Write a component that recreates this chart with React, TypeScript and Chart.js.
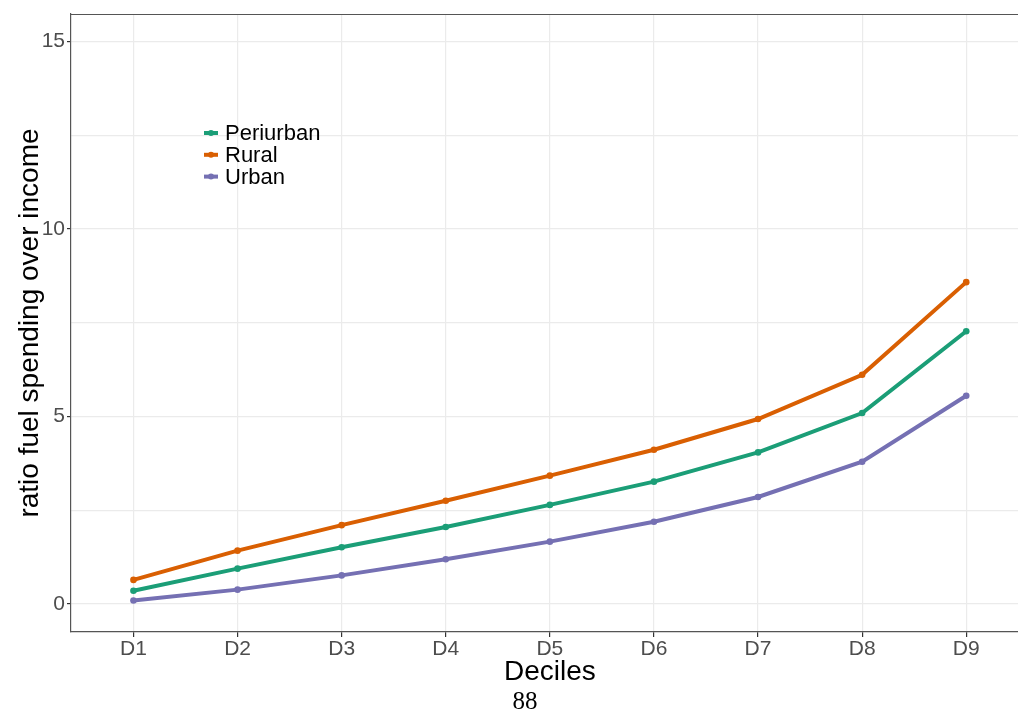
import React, { useEffect, useRef } from "react";
import { Chart, registerables } from "chart.js";

Chart.register(...registerables);

const deciles = ["D1", "D2", "D3", "D4", "D5", "D6", "D7", "D8", "D9"];
const periurban = [0.35, 0.94, 1.51, 2.05, 2.64, 3.26, 4.04, 5.09, 7.27];
const rural = [0.64, 1.42, 2.1, 2.75, 3.42, 4.11, 4.93, 6.11, 8.58];
const urban = [0.09, 0.38, 0.76, 1.19, 1.66, 2.19, 2.85, 3.79, 5.55];
const seriesNames = ["Periurban", "Rural", "Urban"];
const seriesColors = ["#1B9E77", "#D95F02", "#7570B3"];
const yMajorTicks = [0, 5, 10, 15];
const yGridTicks = [0, 2.5, 5, 7.5, 10, 12.5, 15];
const pageNumber = "88";

const FONT = "'Liberation Sans', Arial, Helvetica, sans-serif";

const frameAndLegend = {
  id: "frameAndLegend",
  afterDraw(chart: any) {
    const { ctx, chartArea } = chart;
    ctx.save();
    // top and right border of the panel
    ctx.strokeStyle = "#555555";
    ctx.lineWidth = 1.2;
    ctx.beginPath();
    ctx.moveTo(chartArea.left, chartArea.top + 0.5);
    ctx.lineTo(chartArea.right, chartArea.top + 0.5);
    ctx.lineTo(chartArea.right, chartArea.bottom);
    ctx.stroke();

    // legend inside the panel
    const x0 = 204;
    const y0 = 133;
    const dy = 21.8;
    ctx.font = `22px ${FONT}`;
    ctx.textBaseline = "middle";
    ctx.textAlign = "left";
    chart.data.datasets.forEach((ds: any, i: number) => {
      const y = y0 + i * dy;
      ctx.strokeStyle = ds.borderColor;
      ctx.lineWidth = 4;
      ctx.lineCap = "butt";
      ctx.beginPath();
      ctx.moveTo(x0, y);
      ctx.lineTo(x0 + 14, y);
      ctx.stroke();
      ctx.fillStyle = ds.borderColor;
      ctx.beginPath();
      ctx.arc(x0 + 7, y, 3, 0, Math.PI * 2);
      ctx.fill();
      ctx.fillStyle = "#000000";
      ctx.fillText(ds.label, x0 + 21, y + 1);
    });
    ctx.restore();
  },
};

export default function App() {
  const canvasRef = useRef<HTMLCanvasElement | null>(null);

  useEffect(() => {
    if (!canvasRef.current) return;
    const seriesValues = [periurban, rural, urban];
    const chart = new Chart(canvasRef.current, {
      type: "line",
      data: {
        datasets: seriesValues.map((vals, i) => ({
          label: seriesNames[i],
          data: vals.map((v, j) => ({ x: j + 1, y: v })),
          borderColor: seriesColors[i],
          backgroundColor: seriesColors[i],
          borderWidth: 4,
          pointRadius: 3.3,
          pointBorderWidth: 0,
          pointHoverRadius: 3.3,
          tension: 0,
          fill: false,
        })),
      },
      options: {
        animation: false,
        responsive: false,
        maintainAspectRatio: false,
        layout: { padding: { top: 14, right: 0, bottom: 0, left: 0 } },
        plugins: {
          legend: { display: false },
          tooltip: { enabled: false },
        },
        scales: {
          x: {
            type: "linear",
            min: 0.4,
            max: 9.6,
            afterBuildTicks: (scale: any) => {
              scale.ticks = deciles.map((_, i) => ({ value: i + 1 }));
            },
            afterFit: (scale: any) => {
              scale.height = 80;
              scale.paddingLeft = 0;
              scale.paddingRight = 0;
            },
            ticks: {
              callback: (v: any) => deciles[Number(v) - 1] ?? "",
              color: "#4D4D4D",
              font: { family: FONT, size: 21 },
              padding: 0,
              maxRotation: 0,
              autoSkip: false,
            },
            grid: {
              color: "#EBEBEB",
              lineWidth: 1.2,
              tickColor: "#333333",
              tickLength: 5,
            },
            border: { display: true, color: "#555555", width: 1.2 },
            title: {
              display: true,
              text: "Deciles",
              color: "#000000",
              font: { family: FONT, size: 28 },
              padding: { top: 0, bottom: 23 },
            },
          },
          y: {
            type: "linear",
            min: -0.75,
            max: 15.73,
            afterBuildTicks: (scale: any) => {
              scale.ticks = yGridTicks.map((v) => ({ value: v }));
            },
            afterFit: (scale: any) => {
              scale.width = 71;
              scale.paddingTop = 0;
              scale.paddingBottom = 0;
            },
            ticks: {
              callback: (v: any) => (yMajorTicks.includes(Number(v)) ? String(v) : ""),
              color: "#4D4D4D",
              font: { family: FONT, size: 21 },
              padding: 2,
            },
            grid: {
              color: "#EBEBEB",
              lineWidth: 1.2,
              tickColor: (ctx: any) =>
                ctx.tick && yMajorTicks.includes(ctx.tick.value) ? "#333333" : "rgba(0,0,0,0)",
              tickLength: 4,
            },
            border: { display: true, color: "#555555", width: 1.2 },
            title: {
              display: true,
              text: "ratio fuel spending over income",
              color: "#000000",
              font: { family: FONT, size: 28 },
              padding: { top: 13, bottom: 0 },
            },
          },
        },
      },
      plugins: [frameAndLegend],
    } as any);
    return () => chart.destroy();
  }, []);

  return (
    <div
      style={{
        position: "absolute",
        left: 0,
        top: 0,
        width: 1018,
        height: 712,
        overflow: "hidden",
        background: "#ffffff",
      }}
    >
      <canvas ref={canvasRef} width={1032} height={712} style={{ display: "block" }} />
      <div
        style={{
          position: "absolute",
          left: 525,
          top: 700,
          transform: "translate(-50%, -50%)",
          fontFamily: "'Liberation Serif', 'Times New Roman', serif",
          fontSize: 25,
          lineHeight: 1,
          color: "#000000",
        }}
      >
        {pageNumber}
      </div>
    </div>
  );
}
